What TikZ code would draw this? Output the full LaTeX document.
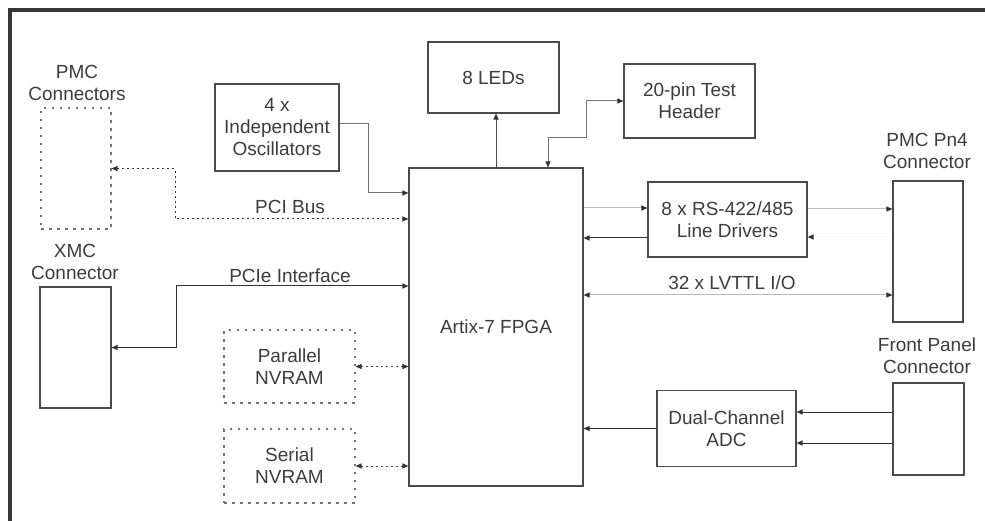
\documentclass[tikz,border=0pt]{standalone}
\usepackage{fontspec}
\setmainfont{Liberation Sans}
\usepackage{tikz}
\usetikzlibrary{arrows.meta, positioning, calc}
\definecolor{framegray}{RGB}{55,55,55}
\definecolor{linegray}{RGB}{75,75,75}
\definecolor{darkline}{RGB}{50,50,50}
\definecolor{midline}{RGB}{115,115,115}
\definecolor{paleline}{RGB}{185,185,185}
\definecolor{faintline}{RGB}{245,245,245}
\definecolor{textgray}{RGB}{60,60,60}
\tikzset{every node/.append style={align=center}}
\tikzset{
  blk/.style={rectangle, draw=linegray, line width=1.1pt, inner sep=0pt,
    text=textgray, font=\fontsize{19}{22}\selectfont, align=center},
  dblk/.style={blk, draw=midline, dash pattern=on 2.5pt off 5.5pt},
  lbl/.style={inner sep=0pt, text=textgray, font=\fontsize{19}{22}\selectfont, align=center},
  arrow/.style={->, >={Triangle[length=6pt,width=5pt,color=darkline]}, line width=1pt, draw=linegray},
  dotarrow/.style={arrow, dash pattern=on 2pt off 3pt}
}

\begin{document}
\begin{tikzpicture}[x=1pt, y=-1pt]
  \useasboundingbox (0,0) rectangle (985,521);
  \draw[line width=3.5pt, framegray] (10,521) -- (10,10) -- (985,10);

  \node[dblk, minimum width=70pt, minimum height=121pt] (pmc) at (76,168.5) {};
  \node[lbl] (pmclbl) at (77,83) {PMC\\Connectors};
  \node[blk, minimum width=71pt, minimum height=121pt] (xmc) at (75.5,347.5) {};
  \node[lbl] (xmclbl) at (75,262) {XMC\\Connector};
  \node[blk, minimum width=124pt, minimum height=87pt] (osc) at (277,127.5) {4 x\\Independent\\Oscillators};
  \node[blk, minimum width=131pt, minimum height=71pt] (led) at (493.5,77.5) {8 LEDs};
  \node[blk, minimum width=131pt, minimum height=74pt] (hdr) at (689.5,101) {20-pin Test\\Header};
  \node[blk, minimum width=174pt, minimum height=318pt] (fpga) at (496,327) {Artix-7 FPGA};
  \node[blk, minimum width=159pt, minimum height=75pt] (rs) at (727.5,219.5) {8 x RS-422/485\\Line Drivers};
  \node[blk, minimum width=70pt, minimum height=141pt] (pn4) at (928,251.5) {};
  \node[lbl] (pn4lbl) at (927,151) {PMC Pn4\\Connector};
  \node[blk, minimum width=71pt, minimum height=92pt] (fp) at (928.5,429) {};
  \node[lbl] (fplbl) at (927,356) {Front Panel\\Connector};
  \node[blk, minimum width=139pt, minimum height=76pt] (adc) at (726.5,428.5) {Dual-Channel\\ADC};
  \node[dblk, minimum width=131pt, minimum height=73pt] (pnv) at (289.5,366.5) {Parallel\\NVRAM};
  \node[dblk, minimum width=131pt, minimum height=74pt] (snv) at (289.5,466) {Serial\\NVRAM};

  \draw[arrow, midline] ([yshift=4pt]osc.east) -| (368,193) -- (fpga.west |- 0,193);
  \draw[dotarrow, <->, darkline] (pmc.east) -| (175,219) -- (fpga.west |- 0,219);
  \node[lbl] (pcilbl) at (290,207) {PCI Bus};
  \draw[arrow, <->, darkline] (xmc.east) -| (176,286) -- (fpga.west |- 0,286);
  \node[lbl] (pcielbl) at (290,276) {PCIe Interface};
  \draw[dotarrow, <->] (pnv.east) -- (fpga.west |- pnv.east);
  \draw[dotarrow, <->] (snv.east) -- (fpga.west |- snv.east);
  \draw[arrow] (fpga.north) -- (fpga.north |- led.south);
  \draw[arrow, <->, midline] ([xshift=52pt]fpga.north) |- (586,138) |- (hdr.west);
  \draw[arrow, paleline] (fpga.east |- 0,208) -- (rs.west |- 0,208);
  \draw[arrow, darkline] (rs.west |- 0,238) -- (fpga.east |- 0,238);
  \draw[arrow, paleline] (rs.east |- 0,209) -- (pn4.west |- 0,209);
  \draw[arrow, faintline] (pn4.west |- 0,237) -- (rs.east |- 0,237);
  \draw[arrow, <->, paleline] (fpga.east |- 0,295) -- (pn4.west |- 0,295);
  \node[lbl] (lvttllbl) at (732,283) {32 x LVTTL I/O};
  \draw[arrow, darkline] (adc.west) -- (fpga.east |- adc.west);
  \draw[arrow, darkline] (fp.west |- 0,412) -- (adc.east |- 0,412);
  \draw[arrow, darkline] (fp.west |- 0,443) -- (adc.east |- 0,443);
\end{tikzpicture}
\end{document}
